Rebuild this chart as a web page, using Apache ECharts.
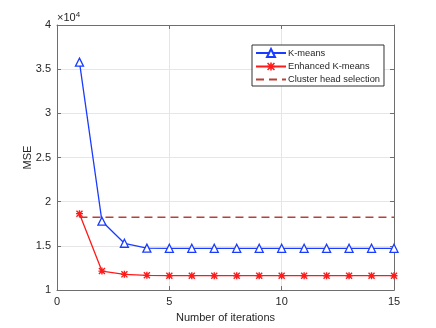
<!DOCTYPE html>
<html>
<head>
<meta charset="utf-8">
<script src="https://cdn.jsdelivr.net/npm/echarts@6/dist/echarts.min.js"></script>
<style>
  html, body { margin: 0; padding: 0; background: #fff; }
  #main { width: 436px; height: 328px; }
</style>
</head>
<body>
<div id="main"></div>
<script>
// iterations and MSE values
var iterations = [1, 2, 3, 4, 5, 6, 7, 8, 9, 10, 11, 12, 13, 14, 15];
var kmeans = [35800, 17800, 15300, 14750, 14730, 14730, 14730, 14730, 14730, 14730, 14730, 14730, 14730, 14730, 14730];
var enhanced = [18650, 12150, 11780, 11670, 11630, 11630, 11630, 11630, 11630, 11630, 11630, 11630, 11630, 11630, 11630];
var clusterHead = [18230, 18230];
var clusterHeadX = [1, 15];

var font = 'Liberation Sans, Arial, sans-serif';
var txt = '#262626';
var axisCol = '#6e6e6e';

// asterisk marker like matlab '*'
var star = 'path://M4 0H6V10H4Z M0 4H10V6H0Z M1.4 0L10 8.6L8.6 10L0 1.4Z M8.6 0L10 1.4L1.4 10L0 8.6Z';

function pairs(xs, ys) {
  return xs.map(function (x, i) { return [x, ys[i]]; });
}

var chart = echarts.init(document.getElementById('main'));
chart.setOption({
  animation: false,
  backgroundColor: '#fff',
  textStyle: { fontFamily: font },
  grid: { left: 57, right: 42, top: 25, bottom: 37 },
  legend: {
    orient: 'vertical',
    left: 252, top: 45,
    backgroundColor: '#fff',
    borderColor: '#333',
    borderWidth: 1,
    borderRadius: 0,
    padding: [3, 4, 2, 3],
    itemWidth: 30, itemHeight: 10, itemGap: 4,
    textStyle: { fontSize: 9.3, color: txt, fontFamily: font, padding: [0, 0, 0, -3] },
    data: ['K-means', 'Enhanced K-means', { name: 'Cluster head selection', itemStyle: { opacity: 0 } }]
  },
  xAxis: [{
    type: 'value', min: 0, max: 15, interval: 5,
    name: 'Number of iterations', nameLocation: 'middle', nameGap: 19,
    nameTextStyle: { fontSize: 11, color: txt },
    axisLine: { onZero: false, lineStyle: { color: axisCol } },
    axisTick: { inside: true, length: 4, lineStyle: { color: axisCol } },
    axisLabel: { fontSize: 11, color: txt, margin: 6 },
    splitLine: { lineStyle: { color: '#e6e6e6' } }
  }, {
    type: 'value', min: 0, max: 15, interval: 5, position: 'top',
    axisLine: { onZero: false, lineStyle: { color: axisCol } },
    axisTick: { inside: true, length: 4, lineStyle: { color: axisCol } },
    axisLabel: { show: false }, splitLine: { show: false }
  }],
  yAxis: [{
    type: 'value', min: 10000, max: 40000, interval: 5000,
    name: 'MSE', nameLocation: 'middle', nameGap: 24, nameMoveOverlap: false,
    nameTextStyle: { fontSize: 11, color: txt },
    axisLine: { show: true, onZero: false, lineStyle: { color: axisCol } },
    axisTick: { show: true, inside: true, length: 4, lineStyle: { color: axisCol } },
    axisLabel: { fontSize: 11, color: txt, margin: 6, formatter: function (v) { return String(v / 10000); } },
    splitLine: { lineStyle: { color: '#e6e6e6' } }
  }, {
    type: 'value', min: 10000, max: 40000, interval: 5000, position: 'right',
    axisLine: { show: true, onZero: false, lineStyle: { color: axisCol } },
    axisTick: { show: true, inside: true, length: 4, lineStyle: { color: axisCol } },
    axisLabel: { show: false }, splitLine: { show: false }
  }],
  graphic: [{
    type: 'text', left: 57, top: 11,
    style: {
      text: '{a|×10}{b|4}',
      fill: txt,
      rich: {
        a: { fontSize: 11, fontFamily: font, fill: txt },
        b: { fontSize: 8, fontFamily: font, fill: txt, verticalAlign: 'top', padding: [0, 0, 6, 0] }
      }
    }
  }],
  series: [{
    name: 'K-means', type: 'line',
    data: pairs(iterations, kmeans),
    symbol: 'triangle', symbolSize: 8, showAllSymbol: true,
    lineStyle: { color: '#1a3cff', width: 1.3 },
    itemStyle: { color: '#fff', borderColor: '#1a3cff', borderWidth: 1.3 },
    z: 3
  }, {
    name: 'Enhanced K-means', type: 'line',
    data: pairs(iterations, enhanced),
    symbol: star, symbolSize: 7, showAllSymbol: true,
    lineStyle: { color: '#ff1a1a', width: 1.3 },
    itemStyle: { color: '#ff1a1a' },
    z: 3
  }, {
    name: 'Cluster head selection', type: 'line',
    data: pairs(clusterHeadX, clusterHead),
    symbol: 'none',
    lineStyle: { color: '#b8403a', width: 1.5, type: [8, 5] },
    itemStyle: { color: '#b8403a' },
    z: 2
  }]
});
</script>
</body>
</html>
